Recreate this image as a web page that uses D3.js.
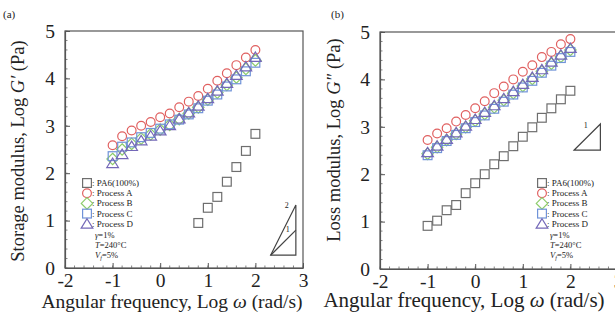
<!DOCTYPE html>
<html>
<head>
<meta charset="utf-8">
<script src="https://cdn.jsdelivr.net/npm/d3@7"></script>
<style>
  body { margin: 0; background: #fff; }
  text, tspan { font-family: "Liberation Serif", "Times New Roman", serif; fill: #222; }
</style>
</head>
<body>
<div id="chart"></div>
<script>
// angular frequency, log w
var freq = [-1, -0.8, -0.6, -0.4, -0.2, 0, 0.2, 0.4, 0.6, 0.8, 1.0, 1.2, 1.4, 1.6, 1.8, 2.0];
var freqPA6a = [0.8, 1.0, 1.2, 1.4, 1.6, 1.8, 2.0];

// (a) storage modulus, log G'
var pa6A   = [0.95, 1.27, 1.50, 1.82, 2.13, 2.47, 2.83];
var procAa = [2.59, 2.78, 2.90, 3.00, 3.08, 3.18, 3.26, 3.39, 3.51, 3.63, 3.78, 3.95, 4.11, 4.28, 4.44, 4.60];
var procBa = [2.30, 2.50, 2.62, 2.73, 2.82, 2.92, 3.02, 3.14, 3.26, 3.39, 3.55, 3.70, 3.86, 4.02, 4.20, 4.38];
var procCa = [2.36, 2.56, 2.65, 2.76, 2.85, 2.94, 3.03, 3.13, 3.24, 3.37, 3.53, 3.66, 3.83, 3.98, 4.15, 4.33];
var procDa = [2.21, 2.40, 2.57, 2.69, 2.79, 2.90, 3.01, 3.15, 3.28, 3.42, 3.58, 3.74, 3.90, 4.07, 4.25, 4.45];

// (b) loss modulus, log G''
var pa6B   = [0.91, 1.02, 1.24, 1.35, 1.60, 1.81, 2.00, 2.21, 2.38, 2.59, 2.79, 2.99, 3.19, 3.39, 3.58, 3.76];
var procAb = [2.72, 2.86, 2.97, 3.11, 3.25, 3.39, 3.54, 3.71, 3.85, 4.00, 4.16, 4.30, 4.47, 4.58, 4.74, 4.85];
var procBb = [2.43, 2.57, 2.72, 2.85, 2.99, 3.13, 3.27, 3.41, 3.56, 3.71, 3.86, 4.01, 4.17, 4.33, 4.48, 4.62];
var procCb = [2.40, 2.55, 2.70, 2.83, 2.97, 3.10, 3.24, 3.38, 3.53, 3.68, 3.83, 3.97, 4.14, 4.29, 4.45, 4.58];
var procDb = [2.46, 2.60, 2.74, 2.88, 3.02, 3.16, 3.31, 3.45, 3.60, 3.75, 3.90, 4.05, 4.21, 4.37, 4.52, 4.66];

var xTicks = [-2, -1, 0, 1, 2, 3];
var yTicks = [0, 1, 2, 3, 4, 5];
var legendNames = [": PA6(100%)", ": Process A", ": Process B", ": Process C", ": Process D"];

// slope marks (data units)
var slopeA = [[2.32, 0.27], [2.85, 1.33], [2.85, 0.27]];
var slopeA1 = [[2.32, 0.27], [2.85, 0.80]];
var slopeB = [[2.08, 2.51], [2.63, 3.06], [2.63, 2.51]];

var W = 615, H = 319;
var serif = "Liberation Serif";
var svg = d3.select("#chart").append("svg").attr("width", W).attr("height", H);

var colors = { pa6: "#6e6e6e", A: "#e06060", B: "#8ccc6a", C: "#7093d8", D: "#7468b8" };

function marker(g, type, color, x, y) {
  var s = 4.4;
  if (type == "circle") {
    g.append("circle").attr("cx", x).attr("cy", y).attr("r", s)
      .attr("fill", "none").attr("stroke", color).attr("stroke-width", 1.2);
  } else if (type == "square") {
    g.append("rect").attr("x", x - s).attr("y", y - s).attr("width", 2 * s).attr("height", 2 * s)
      .attr("fill", "none").attr("stroke", color).attr("stroke-width", 1.2);
  } else if (type == "diamond") {
    var d = s * 1.3;
    g.append("path").attr("d", "M" + x + "," + (y - d) + "L" + (x + d) + "," + y + "L" + x + "," + (y + d) + "L" + (x - d) + "," + y + "Z")
      .attr("fill", "none").attr("stroke", color).attr("stroke-width", 1.2);
  } else {
    var t = s * 1.15;
    g.append("path").attr("d", "M" + x + "," + (y - t) + "L" + (x + t * 1.15) + "," + (y + t * 0.85) + "L" + (x - t * 1.15) + "," + (y + t * 0.85) + "Z")
      .attr("fill", "none").attr("stroke", color).attr("stroke-width", 1.2);
  }
}

function panel(opt) {
  var x = d3.scaleLinear().domain([-2, 3]).range([opt.left, opt.left + 238]);
  var y = d3.scaleLinear().domain([0, 5]).range([opt.bottom, opt.bottom - 237]);
  var g = svg.append("g");

  // frame
  g.append("rect").attr("x", x(-2)).attr("y", y(5)).attr("width", x(3) - x(-2)).attr("height", y(0) - y(5))
    .attr("fill", "none").attr("stroke", "#555").attr("stroke-width", 1.2);

  // minor ticks
  var minor = d3.range(-2, 3.01, 0.2);
  g.selectAll(".mx").data(minor).enter().append("line")
    .attr("x1", d => x(d)).attr("x2", d => x(d)).attr("y1", y(0)).attr("y2", y(0) - 2.5)
    .attr("stroke", "#666").attr("stroke-width", 0.8);
  var minorY = d3.range(0, 5.01, 0.2);
  g.selectAll(".my").data(minorY).enter().append("line")
    .attr("x1", x(-2)).attr("x2", x(-2) + 2.5).attr("y1", d => y(d)).attr("y2", d => y(d))
    .attr("stroke", "#666").attr("stroke-width", 0.8);

  var fmt = d => String(d);
  var xa = g.append("g").attr("transform", "translate(0," + y(0) + ")")
    .call(d3.axisBottom(x).tickValues(xTicks).tickFormat(fmt).tickSizeInner(-5).tickSizeOuter(0).tickPadding(5));
  var ya = g.append("g").attr("transform", "translate(" + x(-2) + ",0)")
    .call(d3.axisLeft(y).tickValues(yTicks).tickFormat(fmt).tickSizeInner(-5).tickSizeOuter(0).tickPadding(10));
  [xa, ya].forEach(function(a) {
    a.select(".domain").attr("stroke", "#555").attr("stroke-width", 1.2);
    a.selectAll(".tick line").attr("stroke", "#555");
    a.selectAll("text").attr("font-family", serif).attr("font-size", 19.5).attr("fill", "#222");
  });

  // slope triangle
  g.append("path").attr("d", d3.line()(opt.slope.map(p => [x(p[0]), y(p[1])])) + "Z")
    .attr("fill", "none").attr("stroke", "#444").attr("stroke-width", 1.2);
  if (opt.slope1) {
    g.append("path").attr("d", d3.line()(opt.slope1.map(p => [x(p[0]), y(p[1])])))
      .attr("fill", "none").attr("stroke", "#444").attr("stroke-width", 1.2);
  }
  opt.slopeLabels.forEach(function(l) {
    g.append("text").attr("x", x(l[0])).attr("y", y(l[1])).attr("font-size", 8).attr("text-anchor", "middle").text(l[2]);
  });

  // series
  var series = [
    { xs: opt.pa6x, ys: opt.pa6, type: "square", color: colors.pa6 },
    { xs: freq, ys: opt.A, type: "circle", color: colors.A },
    { xs: freq, ys: opt.B, type: "diamond", color: colors.B },
    { xs: freq, ys: opt.C, type: "square", color: colors.C },
    { xs: freq, ys: opt.D, type: "triangle", color: colors.D }
  ];
  series.forEach(function(s) {
    s.ys.forEach(function(v, i) { marker(g, s.type, s.color, x(s.xs[i]), y(v)); });
  });

  // legend
  var lx = opt.legX, ly = 183;
  series.forEach(function(s, i) {
    marker(g, s.type, s.color, lx, ly + i * 10.2);
    g.append("text").attr("x", lx + 5).attr("y", ly + i * 10.2 + 3).attr("font-size", 9).text(legendNames[i]);
  });
  var t1 = g.append("text").attr("x", lx + 8).attr("y", ly + 55).attr("font-size", 8.5);
  t1.append("tspan").attr("font-style", "italic").text("γ");
  t1.append("tspan").text("=1%");
  var t2 = g.append("text").attr("x", lx + 8).attr("y", ly + 65).attr("font-size", 8.5);
  t2.append("tspan").attr("font-style", "italic").text("T");
  t2.append("tspan").text("=240°C");
  var t3 = g.append("text").attr("x", lx + 8).attr("y", ly + 75).attr("font-size", 8.5);
  t3.append("tspan").attr("font-style", "italic").text("V");
  t3.append("tspan").attr("font-style", "italic").attr("font-size", 6).attr("dy", 2).text("f");
  t3.append("tspan").attr("dy", -2).text("=5%");

  // axis titles
  var xt = g.append("text").attr("x", opt.xtX).attr("y", opt.xtY).attr("text-anchor", "middle")
    .attr("font-family", serif).attr("font-size", opt.xtSize);
  xt.append("tspan").text("Angular frequency, Log ");
  xt.append("tspan").attr("font-style", "italic").text("ω");
  xt.append("tspan").text(" (rad/s)");

  var yt = g.append("text").attr("transform", "translate(" + opt.ytX + "," + opt.ytY + ") rotate(-90)")
    .attr("text-anchor", "middle").attr("font-family", serif).attr("font-size", 18.5);
  yt.append("tspan").text(opt.yTitle[0]);
  yt.append("tspan").attr("font-style", "italic").text(opt.yTitle[1]);
  yt.append("tspan").text(opt.yTitle[2]);

  svg.append("text").attr("x", opt.labX).attr("y", 18).attr("font-family", "Liberation Sans")
    .attr("font-size", 11).text(opt.label);
}

panel({ left: 65, bottom: 268, pa6x: freqPA6a, pa6: pa6A, A: procAa, B: procBa, C: procCa, D: procDa,
  slope: slopeA, slope1: slopeA1, slopeLabels: [[2.66, 1.27, "2"], [2.68, 0.77, "1"]],
  legX: 87, ytX: 24, ytY: 151, yTitle: ["Storage modulus, Log ", "G′", " (Pa)"], labX: 3, label: "(a)",
  xtX: 172, xtY: 308, xtSize: 19.5 });

panel({ left: 380, bottom: 269, pa6x: freq, pa6: pa6B, A: procAb, B: procBb, C: procCb, D: procDb,
  slope: slopeB, slope1: null, slopeLabels: [[2.32, 2.97, "1"]],
  legX: 542, ytX: 340, ytY: 140, yTitle: ["Loss modulus, Log ", "G″", " (Pa)"], labX: 331, label: "(b)",
  xtX: 464, xtY: 307, xtSize: 21 });
</script>
</body>
</html>
